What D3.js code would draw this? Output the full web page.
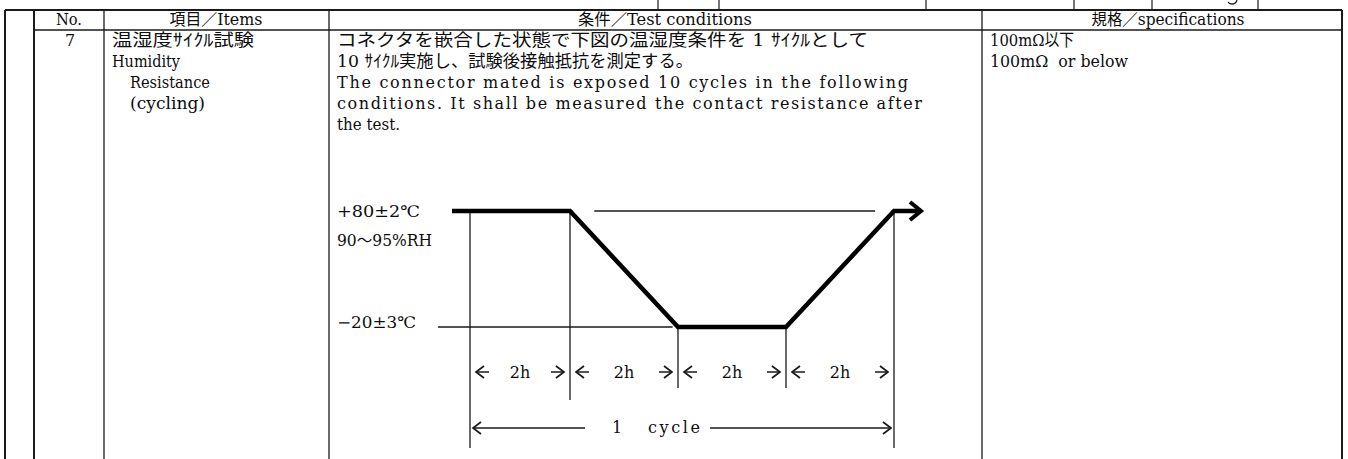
<!DOCTYPE html>
<html>
<head>
<meta charset="utf-8">
<script src="https://cdn.jsdelivr.net/npm/d3@7"></script>
<style>
  html, body { margin: 0; padding: 0; background: #fff; }
  text { fill: #0d0d0d; font-family: "DejaVu Serif", "Noto Sans CJK JP", serif; }
  .lat { font-size: 16px; }
  .jp { font-size: 17px; }
  .head { font-size: 16px; }
</style>
</head>
<body>
<script>
var width = 1348, height = 459;

// table text
var headers = ["No.", "項目／Items", "条件／Test conditions", "規格／specifications"];
var itemNo = ["7"];
var itemLines = ["温湿度ｻｲｸﾙ試験", "Humidity", "Resistance", "(cycling)"];
var conditionLines = [
  "コネクタを嵌合した状態で下図の温湿度条件を 1 ｻｲｸﾙとして",
  "10 ｻｲｸﾙ実施し、試験後接触抵抗を測定する。",
  "The connector mated is exposed 10 cycles in the following",
  "conditions. It shall be measured the contact resistance after",
  "the test."
];
var specLines = ["100mΩ以下", "100mΩ  or below"];

// temperature profile (hours, deg C)
var profileHours = [-0.36, 2, 4, 6, 8, 8.5];
var profileTemps = [80, 80, -20, -20, 80, 80];
var stepHours = [0, 2, 4, 6, 8];
var stepTemps = [80, 80, -20, -20, 80];
var stepLabels = ["2h", "2h", "2h", "2h"];
var levelTemps = [80, -20];
var levelLabels = [["+80±2℃", "90～95%RH"], ["−20±3℃"]];
var cycleLabel = "1   cycle";

var svg = d3.select("body").append("svg")
  .attr("width", width)
  .attr("height", height);

var ink = "#1a1a1a";

//table lines
var colX = [5, 34, 104, 329, 982, 1342];
var tbl = svg.append("g").attr("stroke", ink).attr("fill", "none");
tbl.append("line").attr("x1", 5).attr("x2", 1342).attr("y1", 10).attr("y2", 10).attr("stroke-width", 2);
tbl.append("line").attr("x1", 34).attr("x2", 1342).attr("y1", 30).attr("y2", 30).attr("stroke-width", 1.3);
tbl.selectAll(".col")
  .data(colX)
  .join("line")
  .attr("x1", d => d).attr("x2", d => d)
  .attr("y1", 10).attr("y2", height)
  .attr("stroke-width", (d, i) => i < 2 || i == 5 ? 2 : 1.3);

// row above (cut off)
tbl.selectAll(".top")
  .data([658, 719, 926, 1074, 1152, 1258])
  .join("line")
  .attr("x1", d => d).attr("x2", d => d)
  .attr("y1", 0).attr("y2", 10)
  .attr("stroke-width", 1.2);
tbl.append("path")
  .attr("d", "M1237,0 Q1236,4 1232,4 Q1229,4 1228,2")
  .attr("stroke-width", 1.3);

//header
var headX = [69, 216, 665, 1168];
var headW = [26, 93, 174, 153];
svg.selectAll(".hd")
  .data(headers)
  .join("text")
  .attr("class", "head")
  .attr("x", (d, i) => headX[i] - headW[i] / 2)
  .attr("y", 25)
  .attr("textLength", (d, i) => headW[i])
  .attr("lengthAdjust", "spacingAndGlyphs")
  .text(d => d);

var rowY = [46, 67, 88, 109, 130];

svg.append("text").attr("class", "lat").attr("x", 70).attr("y", rowY[0])
  .attr("text-anchor", "middle").text(itemNo[0]);

var itemX = [112, 112, 130, 130];
var itemW = [142, 68, 80, 75];
svg.selectAll(".item")
  .data(itemLines)
  .join("text")
  .attr("class", (d, i) => i == 0 ? "jp" : "lat")
  .attr("x", (d, i) => itemX[i])
  .attr("y", (d, i) => rowY[i])
  .attr("textLength", (d, i) => itemW[i])
  .attr("lengthAdjust", "spacingAndGlyphs")
  .text(d => d);

var condW = [531, 356, 571, 585, 63];
svg.selectAll(".cond")
  .data(conditionLines)
  .join("text")
  .attr("class", (d, i) => i < 2 ? "jp" : "lat")
  .attr("x", 337)
  .attr("y", (d, i) => rowY[i])
  .attr("textLength", (d, i) => condW[i])
  .attr("lengthAdjust", (d, i) => i == 2 || i == 3 ? "spacing" : "spacingAndGlyphs")
  .style("white-space", "pre")
  .text(d => d);

var specW = [84, 138];
svg.selectAll(".spec")
  .data(specLines)
  .join("text")
  .attr("class", (d, i) => i == 0 ? "jp" : "lat")
  .attr("x", 990)
  .attr("y", (d, i) => rowY[i])
  .attr("textLength", (d, i) => specW[i])
  .attr("lengthAdjust", "spacingAndGlyphs")
  .style("white-space", "pre")
  .text(d => d);

//diagram
var x = d3.scaleLinear().domain([0, 2, 8]).range([470, 570, 894]);
var y = d3.scaleLinear().domain([-20, 80]).range([327, 211]);

var g = svg.append("g");

// thin level guides
g.append("line")
  .attr("x1", x(2.45)).attr("x2", x(7.65))
  .attr("y1", y(80)).attr("y2", y(80))
  .attr("stroke", ink).attr("stroke-width", 1.3);
g.append("line")
  .attr("x1", x(-0.64)).attr("x2", x(3.9))
  .attr("y1", y(-20)).attr("y2", y(-20))
  .attr("stroke", ink).attr("stroke-width", 1.3);

// step verticals
var stepBottom = [448, 400, 388, 388, 448];
g.selectAll(".step")
  .data(stepHours)
  .join("line")
  .attr("x1", d => x(d)).attr("x2", d => x(d))
  .attr("y1", (d, i) => y(stepTemps[i]))
  .attr("y2", (d, i) => stepBottom[i])
  .attr("stroke", ink).attr("stroke-width", 1.3);

// profile
var pts = profileHours.map((h, i) => [x(h), y(profileTemps[i])]);
g.append("path")
  .attr("d", d3.line()(pts))
  .attr("fill", "none")
  .attr("stroke", "#000")
  .attr("stroke-width", 4.5)
  .attr("stroke-linejoin", "miter");
var tip = pts[pts.length - 1];
g.append("path")
  .attr("d", d3.line()([[tip[0] - 11, tip[1] - 9], [tip[0], tip[1]], [tip[0] - 11, tip[1] + 9]]))
  .attr("fill", "none")
  .attr("stroke", "#000")
  .attr("stroke-width", 4);

// level labels
var levelDy = [[6, 35], [1]];
var levelW = [[83, 95], [79]];
levelTemps.forEach(function (t, k) {
  levelLabels[k].forEach(function (s, j) {
    g.append("text")
      .attr("class", "lat")
      .attr("x", 337)
      .attr("y", y(t) + levelDy[k][j])
      .attr("textLength", levelW[k][j])
      .attr("lengthAdjust", "spacingAndGlyphs")
      .text(s);
  });
});

// arrows
function arrow(sel, x1, x2, yy, head) {
  sel.append("line")
    .attr("x1", x1).attr("x2", x2).attr("y1", yy).attr("y2", yy)
    .attr("stroke", ink).attr("stroke-width", 1.5);
  var hx = head == "left" ? x1 : x2;
  var s = head == "left" ? 1 : -1;
  sel.append("path")
    .attr("d", d3.line()([[hx + s * 8, yy - 6], [hx, yy], [hx + s * 8, yy + 6]]))
    .attr("fill", "none").attr("stroke", ink).attr("stroke-width", 1.7);
}

var rowArrow = 372;
stepLabels.forEach(function (lab, i) {
  var a = x(stepHours[i]), b = x(stepHours[i + 1]);
  arrow(g, a + 6, a + 19, rowArrow, "left");
  arrow(g, b - 19, b - 6, rowArrow, "right");
  g.append("text")
    .attr("class", "lat")
    .attr("x", (a + b) / 2)
    .attr("y", rowArrow + 6)
    .attr("text-anchor", "middle")
    .text(lab);
});

// 1 cycle
var rowCycle = 428;
arrow(g, x(0) + 3, x(0) + 115, rowCycle, "left");
arrow(g, x(8) - 184, x(8) - 3, rowCycle, "right");
g.append("text")
  .attr("class", "lat")
  .attr("x", 612)
  .attr("y", rowCycle + 5)
  .attr("textLength", 88)
  .attr("lengthAdjust", "spacing")
  .style("white-space", "pre")
  .text(cycleLabel);
</script>
</body>
</html>
